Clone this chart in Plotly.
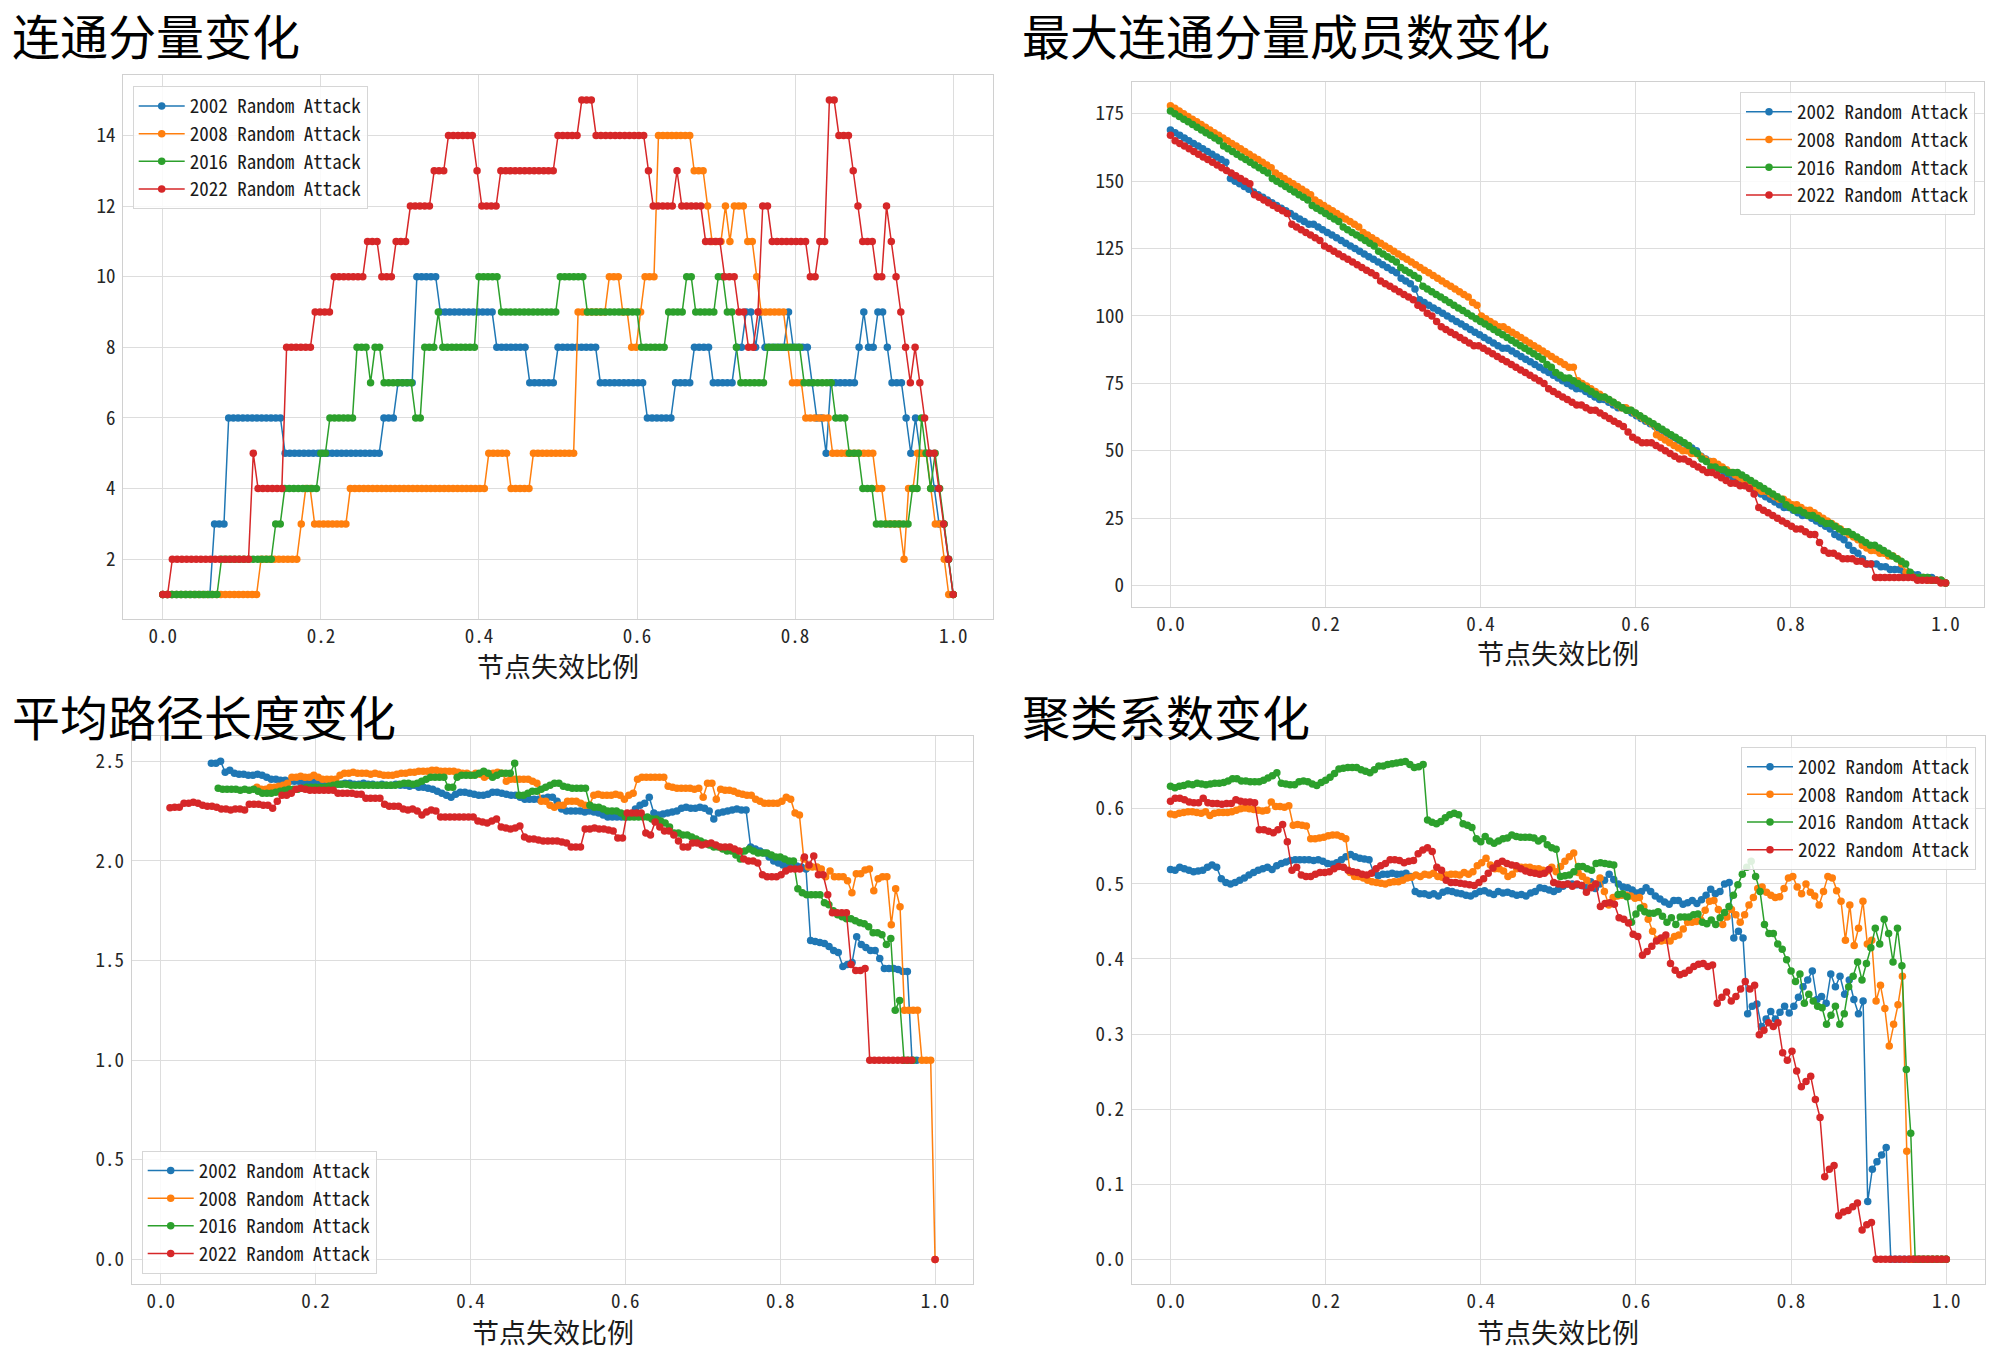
import plotly.graph_objects as go

W, H = 2000, 1365

years = ["2002", "2008", "2016", "2022"]
colors = ["#1f77b4", "#ff7f0e", "#2ca02c", "#d62728"]
legend_names = [y + " Random Attack" for y in years]

titles = ["连通分量变化", "最大连通分量成员数变化", "平均路径长度变化", "聚类系数变化"]
xlabel = "节点失效比例"
x_ticks = [0.0, 0.2, 0.4, 0.6, 0.8, 1.0]

# ---- Chart 1: number of connected components, as (value, run length) ----
cc_2002 = [(1,11),(3,3),(6,12),(5,21),(6,3),(7,4),(10,5),(9,12),(8,7),(7,6),(8,9),(7,10),(6,6),(7,4),(8,4),(7,5),
           (8,2),(9,2),(8,1),(9,1),(8,5),(9,1),(8,4),(7,1),(6,2),(5,1),(7,6),(8,1),(9,1),(8,2),(9,2),(8,1),(7,3),
           (6,1),(5,1),(6,1),(5,3),(4,1),(3,2),(2,1),(1,1)]
cc_2008 = [(1,22),(2,9),(3,1),(4,2),(3,8),(4,31),(5,5),(4,5),(5,10),(9,7),(10,3),(9,2),(8,2),(9,1),(10,3),(14,8),
           (13,3),(12,1),(11,3),(12,1),(11,1),(12,3),(11,2),(10,1),(9,6),(8,1),(7,3),(6,6),(5,10),(4,2),(3,4),(2,1),
           (4,2),(5,3),(4,1),(3,2),(2,1),(1,2)]
cc_2016 = [(1,13),(2,12),(3,2),(4,8),(5,2),(6,6),(8,3),(7,1),(8,2),(7,7),(6,2),(8,3),(9,1),(8,8),(10,5),(9,13),
           (10,6),(9,12),(8,6),(9,4),(10,2),(9,5),(10,2),(9,2),(8,1),(7,6),(8,8),(7,7),(6,3),(5,3),(4,3),(3,8),
           (4,2),(6,1),(5,1),(4,1),(5,1),(4,1),(3,1),(2,1),(1,1)]
cc_2022 = [(1,2),(2,17),(5,1),(4,6),(8,6),(9,4),(10,7),(11,3),(10,3),(11,3),(12,5),(13,3),(14,6),(13,1),(12,4),
           (13,12),(14,5),(15,3),(14,11),(13,1),(12,5),(13,1),(12,5),(11,4),(10,3),(9,2),(8,2),(9,1),(12,2),(11,8),
           (10,2),(11,2),(15,2),(14,3),(13,1),(12,1),(11,3),(10,2),(12,1),(11,1),(10,1),(9,1),(8,1),(7,1),(8,1),
           (7,1),(6,1),(5,2),(4,1),(3,1),(2,1),(1,1)]

# ---- Chart 2: largest connected component size ----
lcc_2002 = [169,168,167,166,165,164,163,162,161,160,159, 158,157,151,
            150,149,148,147,146,145,144,143,142,141,140,139,
            138,137,136,135,134,134,133,132,
            131,130,129,128,127,126,125,124,123,122,121,120,119,118,117,116,114,
            113,112,110,106,
            105,104,103,102,101,100,99,98,97,96,95,94,93,
            92,91,90,89,88,88,87,86,85,84,83,82,81,80,79,78,77,
            76,75,74,73,73,72,71,70,69,69,68,67,66,66,65,64,63,
            62,61,60,59,58,57,56,55,54,53,52,51,50,48,47,46,44,
            43,42,41,40,39,38,37,36,35,34,33,32,31,30,29,29,28,
            27,26,26,25,24,23,22,21,
            19,18,17,15,13,12,10,8,
            8,8,7,7,6,6,6,5,5,4,4,3,3,3,2,2,1]
lcc_2008 = [178,177,176,175,174,173,172,171,170,169,168,167,166,165,164,163,162,161,160,159,158,157,156,155,
            153,152,151,150,149,148,147,146,145,143,142,141,
            140,139,138,137,136,135,134,133,
            131,130,129,128,127,126,125,124,123,122,121,120,119,118,117,116,115,114,113,112,111,110,109,108,107,
            105,104,
            100,99,98,97,96,96,95,94,93,92,91,90,89,88,87,86,85,84,
            83,82,81,81,
            76,75,74,73,72,71,70,69,68,67,66,66,65,64,
            63,62,61,60,
            56,55,54,53,52,51,50,50,49,49,48,47,46,46,
            45,44,43,42,41,40,39,38,37,36,35,35,34,33,32,32,31,
            30,30,29,28,28,27,26,25,24,
            23,22,21,20,19,18,17,15,14,
            13,13,12,12,11,11,10,
            8,5,4,3,
            3,3,2,2,2,2,1]
lcc_2016 = [176,175,174,173,172,171,170,169,168,167,166,165,
            163,162,161,160,159,158,157,156,155,154,153,
            151,150,149,148,147,146,145,144,143,
            141,140,139,138,
            137,136,135,133,132,131,130,129,128,127,126,124,123,122,121,120,118,
            117,116,115,114,111,
            110,109,108,107,106,105,104,103,102,101,100,99,98,
            97,96,95,94,93,92,91,90,89,88,87,86,85,84,82,81,79,
            78,77,77,76,75,74,73,72,71,70,70,69,68,67,66,65,65,64,
            63,62,61,60,59,58,57,56,55,54,53,52,50,49,47,46,44,
            44,43,43,42,42,42,
            41,40,39,38,37,36,35,34,33,32,30,29,
            28,28,27,26,26,25,24,23,23,22,21,20,20,19,18,17,16,
            15,15,14,13,12,11,10,9,8,
            5,3,3,3,3,2,2,2,1]
lcc_2022 = [167,165,164,163,162,161,160,159,158,157,156,155,154,153,152,151,150,149,
            145,144,143,142,141,140,139,
            138,134,
            133,132,131,130,129,128,126,
            125,124,123,122,121,120,119,118,117,116,115,113,112,111,110,109,108,
            107,106,104,103,101,100,98,96,
            95,94,93,92,91,90,89,89,
            88,87,86,85,84,83,82,81,80,79,78,77,76,75,73,72,71,
            70,69,68,67,67,66,65,65,
            64,63,62,61,60,59,57,55,54,
            53,53,53,
            52,51,50,49,48,47,47,46,45,44,43,42,42,
            41,40,39,38,38,37,37,36,
            34,29,
            28,27,26,25,24,23,22,
            21,21,20,19,19,
            16,13,
            12,12,11,10,10,10,9,9,8,8,
            3,3,3,3,3,3,3,3,3,
            2,2,2,2,2,1,1]

# ---- Chart 3: average shortest path length (None = not defined) ----
N_ = None
apl_2002 = [N_]*11 + [
    2.49,2.49,2.50,2.445,2.455,2.44,
    2.435,2.435,2.43,2.43,2.435,2.43,2.42,2.41,2.41,2.405,
    2.405,2.40,2.40,2.40,2.395,2.40,2.40,2.395,2.39,
    2.39,2.39,2.39,2.385,2.39,2.39,2.385,2.385,2.39,2.385,2.385,2.38,2.385,2.38,2.38,2.385,2.38,2.38,2.375,2.38,
    2.37,2.37,2.365,2.36,2.35,
    2.34,2.33,2.32,
    2.335,2.345,2.345,
    2.34,2.335,2.33,2.33,
    2.335,2.345,2.345,2.34,
    2.335,2.33,2.33,2.32,
    2.31,2.31,2.31,2.31,2.315,
    2.32,2.32,2.30,
    2.26,2.25,2.25,2.25,
    2.25,2.245,2.25,2.245,2.24,2.23,2.22,2.22,2.22,2.22,
    2.22,2.23,2.26,2.28,2.29,2.32,2.24,
    2.23,2.235,2.24,2.245,2.25,
    2.265,2.27,2.265,2.265,2.27,2.265,2.25,
    2.21,
    2.24,2.245,2.25,2.255,2.26,2.255,2.255,
    2.07,
    2.06,2.05,2.04,2.02,2.00,
    1.99,1.98,1.98,1.98,1.975,
    1.97,1.96,
    1.60,
    1.595,1.59,1.585,1.57,
    1.55,1.54,
    1.47,1.48,
    1.49,
    1.62,
    1.58,1.565,
    1.55,1.55,1.51,
    1.46,1.46,1.46,1.455,
    1.445,1.445,
    1.0,1.0] + [N_]*4
apl_2008 = [N_]*22 + [
    2.37,2.36,2.36,2.37,2.37,2.375,2.38,2.39,
    2.42,2.42,2.425,2.42,2.42,2.43,2.42,
    2.41,2.41,2.41,2.41,2.43,
    2.44,2.44,2.445,2.44,2.44,2.44,2.435,2.44,2.435,2.43,2.43,2.43,2.435,2.44,
    2.44,2.445,2.445,2.45,2.45,2.45,2.455,2.455,2.45,2.45,
    2.45,2.45,2.445,2.44,2.44,2.43,2.44,2.435,
    2.42,2.43,2.44,2.445,2.44,2.40,2.41,
    2.41,2.41,2.41,2.41,2.40,2.39,2.30,
    2.30,2.28,2.27,
    2.28,2.28,2.30,2.30,2.30,
    2.29,2.28,2.28,
    2.33,2.335,2.33,2.33,2.33,2.335,2.33,
    2.31,2.33,2.34,
    2.41,2.42,2.42,2.42,2.42,2.42,2.42,
    2.375,2.37,2.365,2.365,2.365,2.365,2.36,2.365,
    2.32,2.39,2.39,2.31,
    2.36,2.355,2.355,2.35,
    2.34,2.335,2.33,2.33,
    2.31,2.30,2.29,2.29,2.29,
    2.29,2.30,2.32,2.31,
    2.24,2.23,
    2.01,
    1.97,1.97,1.97,1.96,
    1.92,1.95,1.92,1.92,1.92,
    1.90,1.84,
    1.935,1.935,1.955,1.96,
    1.85,
    1.91,1.92,1.92,
    1.68,1.86,1.77,
    1.25,1.25,1.25,1.25,
    1.0,1.0,1.0,
    0.0]
apl_2016 = [N_]*13 + [
    2.365,2.36,2.36,2.36,2.36,2.355,2.36,2.355,2.36,2.35,
    2.34,2.34,2.34,2.345,2.35,2.355,2.36,
    2.36,2.36,2.365,2.37,2.37,2.37,2.37,2.37,2.375,2.38,2.385,
    2.385,2.385,2.38,2.38,2.38,2.38,2.38,2.38,2.38,2.38,2.38,2.38,2.38,2.385,2.39,2.39,2.385,2.39,2.40,2.41,
    2.42,2.42,2.42,2.42,
    2.37,2.37,
    2.42,2.43,2.43,2.43,2.43,2.44,
    2.45,2.44,
    2.42,2.43,2.44,2.44,
    2.44,2.49,
    2.33,2.33,2.34,2.35,2.35,
    2.36,2.37,
    2.38,2.39,2.39,2.375,
    2.37,2.365,2.365,2.365,2.365,
    2.28,2.27,2.27,
    2.26,2.25,2.25,2.25,2.24,
    2.22,2.22,2.22,2.22,2.22,2.22,2.21,
    2.21,2.20,
    2.19,2.17,2.14,2.14,2.13,2.13,2.12,
    2.11,2.10,2.09,2.08,2.07,2.07,2.06,
    2.05,2.05,2.03,2.01,
    2.05,2.06,2.05,2.04,2.04,2.04,2.03,2.02,2.02,2.01,
    2.00,2.00,
    1.86,1.84,1.83,1.83,1.83,1.83,
    1.79,1.78,
    1.75,1.73,1.72,1.71,
    1.71,1.70,1.69,1.685,1.67,
    1.64,1.64,1.63,1.58,1.61,
    1.25,1.30,
    1.0,1.0,1.0] + [N_]*5
apl_2022 = [N_]*2 + [
    2.267,2.27,2.27,
    2.29,2.29,2.295,2.29,
    2.28,2.275,2.275,
    2.27,2.26,2.26,2.255,2.26,2.26,2.255,
    2.285,2.285,2.285,2.28,2.28,
    2.265,2.30,
    2.33,2.33,2.34,
    2.36,2.365,2.36,
    2.355,2.355,2.355,2.355,2.355,2.355,
    2.34,2.34,2.34,2.34,2.335,2.335,
    2.315,2.315,2.315,2.315,
    2.285,2.275,2.275,2.275,
    2.26,2.255,2.26,2.25,
    2.23,2.245,2.255,2.25,
    2.22,2.22,2.22,2.22,2.22,2.22,2.22,2.22,
    2.20,2.195,2.19,2.20,2.21,
    2.17,2.165,2.16,2.165,2.175,
    2.12,2.11,2.11,2.105,2.10,2.10,2.10,
    2.10,2.095,2.09,
    2.07,2.07,2.07,
    2.16,2.16,2.165,2.16,2.16,2.155,2.15,
    2.115,2.115,
    2.24,2.24,2.24,2.24,
    2.14,2.13,2.195,
    2.17,2.15,2.15,2.13,2.10,
    2.07,2.07,2.09,2.09,2.08,2.085,2.09,2.08,2.07,2.07,
    2.07,2.06,2.05,2.01,2.00,2.00,
    1.99,1.93,1.92,1.92,1.92,
    1.93,1.95,1.96,1.96,1.96,
    2.02,1.98,2.025,
    1.93,1.93,1.83,
    1.74,1.74,1.74,1.74,
    1.48,1.45,1.45,1.46,
    1.0,1.0,1.0,1.0,1.0,1.0,1.0,1.0,1.0,1.0] + [N_]*4 + [0.0]

# ---- Chart 4: clustering coefficient ----
cl_2002 = [0.519,0.518,0.522,0.52,0.518,0.516,0.517,0.518,0.522,0.525,
           0.522,0.507,0.502,0.5,0.502,0.505,0.508,0.512,0.515,0.518,
           0.52,0.522,0.519,0.524,0.527,0.529,0.531,0.532,0.532,0.532,
           0.532,0.531,0.532,0.53,0.527,0.526,0.528,0.532,0.536,0.539,
           0.536,0.534,0.533,0.532,0.515,0.511,0.513,0.513,0.514,0.513,
           0.513,0.514,0.51,0.49,0.487,0.487,0.485,0.487,0.484,0.489,
           0.491,0.49,0.488,0.487,0.485,0.484,0.487,0.49,0.491,0.488,
           0.486,0.49,0.488,0.489,0.487,0.485,0.486,0.484,0.488,0.49,
           0.495,0.494,0.492,0.49,0.493,0.497,0.5,0.5,0.499,0.498,
           0.495,0.503,0.494,0.5,0.505,0.513,0.506,0.5,0.496,0.495,
           0.492,0.488,0.49,0.495,0.49,0.484,0.48,0.476,0.473,0.478,
           0.478,0.473,0.475,0.478,0.474,0.479,0.485,0.493,0.487,0.49,
           0.5,0.502,0.428,0.437,0.428,0.327,0.337,0.34,0.31,0.32,
           0.33,0.32,0.329,0.337,0.328,0.337,0.349,0.363,0.372,0.384,
           0.346,0.35,0.341,0.38,0.363,0.377,0.353,0.372,0.346,0.327,
           0.344,0.077,0.12,0.13,0.139,0.149,0,0,0,0,
           0,0,0,0,0,0,0,0,0]
cl_2008 = [0.593,0.592,0.594,0.595,0.596,0.596,0.595,0.594,0.596,0.591,
           0.594,0.595,0.595,0.595,0.596,0.598,0.6,0.601,0.6,0.599,
           0.598,0.597,0.598,0.609,0.603,0.603,0.602,0.604,0.578,0.579,
           0.578,0.577,0.56,0.56,0.561,0.562,0.564,0.565,0.565,0.563,
           0.56,0.515,0.51,0.51,0.508,0.505,0.503,0.502,0.501,0.5,
           0.502,0.503,0.503,0.505,0.508,0.509,0.512,0.51,0.513,0.512,
           0.514,0.51,0.509,0.512,0.513,0.513,0.512,0.515,0.513,0.516,
           0.524,0.528,0.534,0.525,0.52,0.52,0.517,0.51,0.513,0.52,
           0.522,0.522,0.522,0.52,0.52,0.518,0.517,0.522,0.516,0.523,
           0.53,0.536,0.541,0.515,0.51,0.505,0.497,0.5,0.508,0.49,
           0.472,0.482,0.484,0.485,0.485,0.484,0.481,0.482,0.47,0.453,
           0.437,0.426,0.424,0.425,0.424,0.43,0.432,0.44,0.449,0.449,
           0.45,0.452,0.465,0.477,0.478,0.466,0.446,0.456,0.466,0.459,
           0.449,0.459,0.472,0.482,0.494,0.496,0.489,0.485,0.482,0.483,
           0.494,0.508,0.51,0.496,0.487,0.5,0.489,0.484,0.472,0.49,
           0.51,0.508,0.491,0.477,0.425,0.472,0.418,0.441,0.477,0.42,
           0.425,0.344,0.365,0.334,0.284,0.313,0.339,0.377,0.144,0,
           0,0,0,0,0,0,0,0]
cl_2016 = [0.63,0.628,0.63,0.631,0.633,0.632,0.634,0.633,0.632,0.633,
           0.634,0.634,0.635,0.637,0.64,0.64,0.637,0.637,0.636,0.636,
           0.636,0.638,0.641,0.644,0.648,0.634,0.633,0.632,0.632,0.636,
           0.637,0.636,0.633,0.631,0.635,0.638,0.642,0.647,0.653,0.654,
           0.655,0.655,0.655,0.652,0.65,0.648,0.652,0.657,0.657,0.659,
           0.66,0.661,0.662,0.663,0.659,0.655,0.656,0.659,0.585,0.582,
           0.58,0.583,0.588,0.592,0.594,0.592,0.58,0.578,0.575,0.56,
           0.556,0.563,0.557,0.554,0.557,0.56,0.561,0.565,0.563,0.562,
           0.562,0.562,0.561,0.557,0.56,0.552,0.548,0.546,0.51,0.511,
           0.512,0.516,0.523,0.523,0.52,0.518,0.527,0.528,0.527,0.526,
           0.525,0.486,0.487,0.483,0.449,0.46,0.468,0.463,0.461,0.461,
           0.463,0.457,0.449,0.455,0.446,0.456,0.456,0.456,0.459,0.46,
           0.449,0.447,0.452,0.446,0.455,0.462,0.47,0.485,0.499,0.513,
           0.522,0.53,0.51,0.49,0.446,0.434,0.434,0.42,0.413,0.399,
           0.384,0.37,0.38,0.341,0.353,0.344,0.337,0.335,0.313,0.325,
           0.337,0.313,0.327,0.363,0.377,0.396,0.372,0.394,0.415,0.441,
           0.42,0.453,0.434,0.396,0.441,0.391,0.253,0.168,0,0,
           0,0,0,0,0,0]
cl_2022 = [0.61,0.614,0.614,0.612,0.609,0.608,0.608,0.614,0.608,0.607,
           0.607,0.606,0.607,0.607,0.612,0.61,0.609,0.609,0.608,0.572,
           0.572,0.57,0.568,0.572,0.579,0.556,0.518,0.522,0.512,0.51,
           0.51,0.513,0.515,0.515,0.516,0.52,0.523,0.522,0.518,0.516,
           0.515,0.513,0.512,0.514,0.52,0.524,0.527,0.532,0.532,0.531,
           0.528,0.53,0.531,0.54,0.545,0.548,0.543,0.522,0.518,0.505,
           0.502,0.502,0.501,0.5,0.499,0.498,0.502,0.507,0.514,0.521,
           0.527,0.53,0.527,0.525,0.524,0.52,0.517,0.515,0.514,0.513,
           0.514,0.519,0.502,0.5,0.499,0.5,0.497,0.5,0.498,0.489,
           0.495,0.5,0.47,0.474,0.475,0.473,0.455,0.453,0.448,0.433,
           0.43,0.405,0.41,0.417,0.424,0.428,0.432,0.394,0.385,0.379,
           0.381,0.385,0.39,0.393,0.394,0.39,0.392,0.341,0.349,0.356,
           0.344,0.35,0.36,0.37,0.36,0.365,0.299,0.305,0.315,0.31,
           0.315,0.275,0.265,0.277,0.251,0.23,0.237,0.244,0.213,0.189,
           0.11,0.12,0.125,0.058,0.063,0.065,0.07,0.075,0.039,0.046,
           0.049,0,0,0,0,0,0,0,0,0,
           0,0,0,0,0,0,0]


def expand(runs):
    out = []
    for v, n in runs:
        out.extend([v] * n)
    return out


def removal_fraction(values):
    n = len(values)
    return [i / (n - 1) for i in range(n)]


panels = [
    [expand(cc_2002), expand(cc_2008), expand(cc_2016), expand(cc_2022)],
    [lcc_2002, lcc_2008, lcc_2016, lcc_2022],
    [apl_2002, apl_2008, apl_2016, apl_2022],
    [cl_2002, cl_2008, cl_2016, cl_2022],
]

def X(p):
    return p / W

def Y(p):
    return 1 - p / H

# axes boxes in pixels: (left, right, top, bottom)
boxes = [(123.3, 992.7, 75.4, 619.3),
         (1131.7, 1984.3, 81.8, 606.8),
         (131.7, 973.3, 736.4, 1284.3),
         (1131.7, 1985.0, 736.4, 1284.3)]
xranges = [[-0.05, 1.05], [-0.05, 1.05], [-0.0374, 1.0494], [-0.05, 1.05]]
yranges = [[0.3, 15.7], [-7.85, 186.85], [-0.125, 2.625], [-0.0332, 0.6964]]
ydticks = [2, 25, 0.5, 0.1]
yformats = ["d", "d", ".1f", ".1f"]

MONO = "Noto Sans Mono CJK SC, Noto Sans CJK SC, Liberation Mono, monospace"
CJK = "Noto Sans CJK SC, sans-serif"

fig = go.Figure()
legend_ids = ["legend", "legend2", "legend3", "legend4"]
for k, series in enumerate(panels):
    sfx = "" if k == 0 else str(k + 1)
    for s, vals in enumerate(series):
        fig.add_trace(go.Scatter(
            x=removal_fraction(vals), y=vals, mode="lines+markers",
            name=legend_names[s],
            line=dict(color=colors[s], width=1.5),
            marker=dict(color=colors[s], size=7.5),
            xaxis="x" + sfx, yaxis="y" + sfx,
            legend=legend_ids[k], connectgaps=False,
        ))

layout = dict(width=W, height=H, autosize=False,
              margin=dict(l=0, r=0, t=0, b=0),
              paper_bgcolor="white", plot_bgcolor="white",
              font=dict(family=MONO, size=19, color="#262626"),
              showlegend=True)

for k in range(4):
    sfx = "" if k == 0 else str(k + 1)
    l, r, t, b = boxes[k]
    layout["xaxis" + sfx] = dict(
        domain=[X(l), X(r)], range=xranges[k], anchor="y" + sfx,
        tickvals=x_ticks, tickformat=".1f", ticks="", ticklabelstandoff=0,
        showgrid=True, gridcolor="#dddddd", gridwidth=1,
        showline=True, linecolor="#d0d0d0", linewidth=1, mirror=True,
        zeroline=False, tickfont=dict(family=MONO, size=19, color="#262626"))
    layout["yaxis" + sfx] = dict(
        domain=[Y(b), Y(t)], range=yranges[k], anchor="x" + sfx,
        tick0=0, dtick=ydticks[k], tickformat=yformats[k], ticks="", ticklabelstandoff=3,
        showgrid=True, gridcolor="#dddddd", gridwidth=1,
        showline=True, linecolor="#d0d0d0", linewidth=1, mirror=True,
        zeroline=False, tickfont=dict(family=MONO, size=19, color="#262626"))

leg_common = dict(bgcolor="rgba(255,255,255,0.85)", bordercolor="#d6d6d6", borderwidth=1,
                  itemwidth=46,
                  font=dict(family=MONO, size=19, color="#1a1a1a"))
layout["legend"] = dict(x=X(132.7), y=Y(86.1), xanchor="left", yanchor="top", **leg_common)
layout["legend2"] = dict(x=X(1975), y=Y(92), xanchor="right", yanchor="top", **leg_common)
layout["legend3"] = dict(x=X(141.7), y=Y(1273.6), xanchor="left", yanchor="bottom", **leg_common)
layout["legend4"] = dict(x=X(1976), y=Y(746.8), xanchor="right", yanchor="top", **leg_common)

annotations = []
title_pos = [(10, 34), (1020, 34), (10, 715), (1020, 715)]
for k in range(4):
    annotations.append(dict(text=titles[k], x=X(title_pos[k][0]), y=Y(title_pos[k][1]),
                            xref="paper", yref="paper", xanchor="left", yanchor="middle",
                            showarrow=False, font=dict(family=CJK, size=48, color="black")))
xlabel_y = [665, 652, 1331, 1331]
for k in range(4):
    l, r, t, b = boxes[k]
    annotations.append(dict(text=xlabel, x=X((l + r) / 2), y=Y(xlabel_y[k]),
                            xref="paper", yref="paper", xanchor="center", yanchor="middle",
                            showarrow=False, font=dict(family=CJK, size=27, color="#1a1a1a")))
layout["annotations"] = annotations

fig.update_layout(**layout)

fig.write_html("out.html", config={"displayModeBar": False},
               post_script="document.body.style.margin='0px';")
